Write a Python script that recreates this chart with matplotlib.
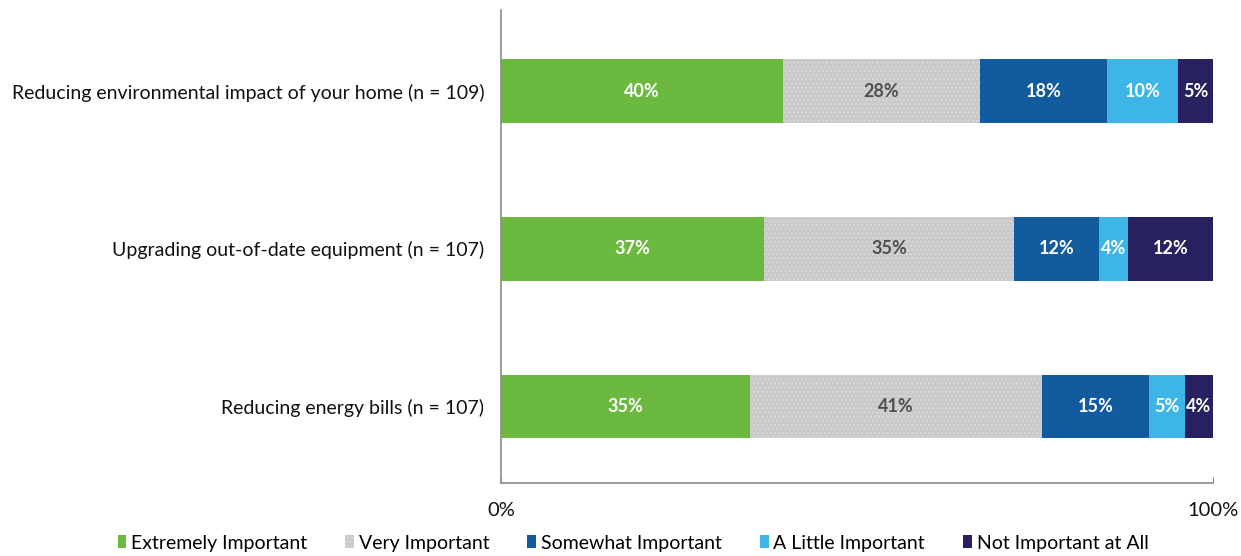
import matplotlib
matplotlib.use("Agg")
import matplotlib.pyplot as plt
import numpy as np

plt.rcParams["font.family"] = ["Lato", "DejaVu Sans"]

categories = [
    "Reducing environmental impact of your home (n = 109)",
    "Upgrading out-of-date equipment (n = 107)",
    "Reducing energy bills (n = 107)",
]
levels = ["Extremely Important", "Very Important", "Somewhat Important",
          "A Little Important", "Not Important at All"]
extremely = [40, 37, 35]
very = [28, 35, 41]
somewhat = [18, 12, 15]
little = [10, 4, 5]
not_at_all = [5, 12, 4]

colors = ["#6cb93f", "#c9c9c9", "#135b9f", "#3db5e6", "#27215f"]
label_colors = ["white", "#4f4f4f", "white", "white", "white"]

series = np.array([extremely, very, somewhat, little, not_at_all], dtype=float)
# rows are rounded, so scale each bar to fill 100%
shares = series / series.sum(axis=0) * 100

fig = plt.figure(figsize=(12.41, 5.56), dpi=100)
ax = fig.add_axes([501 / 1241, 73 / 556, 712 / 1241, 473 / 556])

y = np.arange(len(categories))
left = np.zeros(len(categories))
for i, name in enumerate(levels):
    if i == 1:
        kw = dict(hatch="....", edgecolor="#dadada", linewidth=0)
    else:
        kw = dict(linewidth=0)
    ax.barh(y, shares[i], left=left, height=0.405, color=colors[i], label=name, **kw)
    for j in range(len(categories)):
        ax.text(left[j] + shares[i][j] / 2, y[j], f"{int(series[i][j])}%",
                ha="center", va="center", fontsize=13, fontweight="bold",
                color=label_colors[i])
    left += shares[i]

ax.set_ylim(2.485, -0.515)
ax.set_xlim(0, 100)
ax.set_yticks(y)
ax.set_yticklabels(categories, fontsize=14, color="#111111")
ax.set_xticks([0, 100])
ax.set_xticklabels(["0%", "100%"], fontsize=14.5, color="#111111")
ax.tick_params(axis="y", length=0, pad=12)
ax.tick_params(axis="x", direction="in", length=4, color="#8c8c8c", pad=14)
for side in ("top", "right"):
    ax.spines[side].set_visible(False)
for side in ("left", "bottom"):
    ax.spines[side].set_color("#8c8c8c")
    ax.spines[side].set_linewidth(1.2)

ax.legend(loc="center", bbox_to_anchor=(633 / 1241, 13 / 556),
          bbox_transform=fig.transFigure, ncol=5, frameon=False,
          fontsize=14, handlelength=0.45, handleheight=0.6,
          handletextpad=0.25, columnspacing=1.95)

fig.savefig("out.png", dpi=100)
